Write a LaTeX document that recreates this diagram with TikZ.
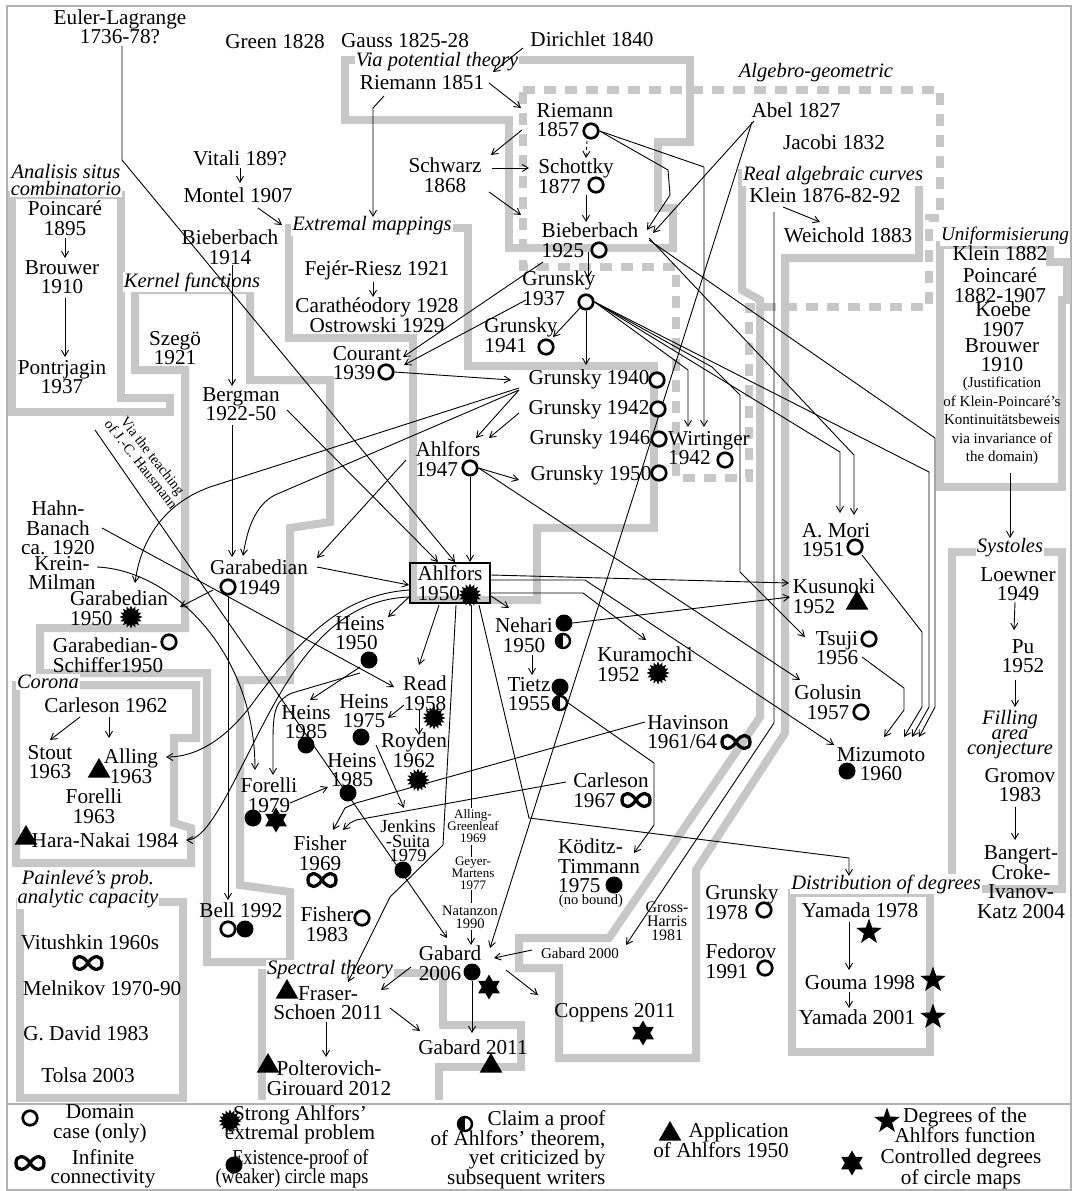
\documentclass[tikz,border=0pt]{standalone}
\usepackage{fontspec}
\setmainfont{Liberation Serif}
\newfontfamily\condfont[FakeStretch=0.86]{Liberation Serif}
\usetikzlibrary{arrows.meta,shapes.geometric,calc}
\pgfdeclarelayer{bg}\pgfdeclarelayer{edges}
\pgfsetlayers{bg,edges,main}
\tikzset{
 tx/.style={font=\fontsize{21.2}{19.5}\selectfont, inner sep=1pt, align=center},
 txl/.style={tx, align=left},
 lab/.style={font=\fontsize{20.5}{17}\selectfont\itshape, fill=white, inner sep=1pt, align=center},
 sm/.style={font=\fontsize{13}{12}\selectfont, inner sep=1pt, align=center},
 region/.style={draw=black!22, line width=8pt, line join=miter},
 dregion/.style={region, dash pattern=on 12pt off 9pt},
 arr/.style={draw, line width=0.9pt, -{Straight Barb[length=6pt,width=7pt]}},
 ln/.style={draw, line width=0.9pt},
 mkring/.style={circle, draw, fill=white, line width=2.7pt, minimum size=14.5pt, inner sep=0pt},
 mkdot/.style={circle, fill=black, minimum size=17pt, inner sep=0pt},
 mksun/.style={star, star points=16, star point ratio=1.45, fill=black, minimum size=23pt, inner sep=0pt},
 mkhalf/.style={circle, draw, fill=white, line width=2.4pt, minimum size=14pt, inner sep=0pt,
   path picture={\fill[black] (path picture bounding box.south west) rectangle (path picture bounding box.north);}},
 mktri/.style={regular polygon, regular polygon sides=3, fill=black, minimum size=26pt, inner sep=0pt},
 mkstar/.style={star, star points=5, star point ratio=2.5, fill=black, minimum size=27pt, inner sep=0pt},
 mkhex/.style={star, star points=6, star point ratio=1.73, fill=black, minimum size=25pt, inner sep=0pt},
 inf/.pic={\draw[line width=3.3pt] (0,0) .. controls (5,8.5) and (14,8.5) .. (14,0) .. controls (14,-8.5) and (5,-8.5) .. (0,0) .. controls (-5,8.5) and (-14,8.5) .. (-14,0) .. controls (-14,-8.5) and (-5,-8.5) .. (0,0) -- cycle;}
}
\begin{document}
\begin{tikzpicture}[x=1pt,y=-1pt]
\useasboundingbox (0,0) rectangle (1072,1191);
\begin{pgfonlayer}{bg}
\fill[white] (0,0) rectangle (1072,1191);
\draw[black!30, line width=1.5pt] (7,6) rectangle (1071,1190);
\draw[black!30, line width=1.5pt] (7,1104) -- (1071,1104);
% regions
\draw[region] (12,195) -- (121,195) -- (121,398) -- (170,398) -- (170,412) -- (12,412) -- cycle;
\draw[region] (135,290) -- (250,290) -- (250,380) -- (330,380) -- (330,522) -- (290,528) -- (290,680) -- (240,680) -- (240,885) -- (290,892) -- (290,962) -- (207,962) -- (207,673) -- (40,673) -- (40,628) -- (185,628) -- (185,370) -- (135,370) -- cycle;
\draw[region] (16,685) -- (196,685) -- (196,738) -- (174,738) -- (174,823) -- (191,828) -- (191,863) -- (16,863) -- cycle;
\draw[region] (20,902) -- (183,902) -- (183,1098) -- (20,1098) -- cycle;
\draw[region] (262,1100) -- (262,973) -- (443,973) -- (443,1025) -- (521,1025) -- (521,1067) -- (439,1067) -- (439,1100);
\draw[region] (289,228) -- (468,228) -- (468,366) -- (654,366) -- (654,528) -- (537,528) -- (537,600) -- (413,600) -- (413,338) -- (289,338) -- cycle;
\draw[region] (345,60) -- (690,60) -- (690,142) -- (658,142) -- (658,208) -- (673,208) -- (673,248) -- (509,248) -- (509,120) -- (345,120) -- cycle;
\draw[dregion] (523,90) -- (940,90) -- (940,218) -- (929,218) -- (929,307) -- (749,307) -- (749,478) -- (676,478) -- (676,267) -- (523,267) -- cycle;
\draw[region] (742,173) -- (919,173) -- (919,258) -- (785,258) -- (785,733) -- (696,870) -- (696,1058) -- (559,1058) -- (559,968) -- (519,968) -- (519,938) -- (609,938) -- (760,717) -- (760,300) -- (742,290) -- cycle;
\draw[region] (940,245) -- (1050,245) -- (1050,262) -- (1067,262) -- (1067,300) -- (1062,300) -- (1062,487) -- (940,487) -- cycle;
\draw[region] (952,552) -- (1062,552) -- (1062,889) -- (952,889) -- cycle;
\draw[region] (792,893) -- (930,893) -- (930,1052) -- (792,1052) -- cycle;
% region labels
\node[lab] (lpot) at (437,62) {Via potential theory};
\node[lab] (lalg) at (816,73) {Algebro-geometric};
\node[lab] (lreal) at (833,176) {Real algebraic curves};
\node[lab] (lanal) at (66,180) {Analisis situs\\combinatorio};
\node[lab] (lext) at (372,226) {Extremal mappings};
\node[lab] (lker) at (192,282) {Kernel functions};
\node[lab, font=\fontsize{19.2}{17}\selectfont\itshape] (luni) at (1005,236) {Uniformisierung};
\node[lab] (lsys) at (1010,548) {Systoles};
\node[lab] (lcor) at (48,682) {Corona};
\node[lab] (lpain) at (88,889) {Painlevé's prob.\\analytic capacity};
\node[lab] (lspec) at (330,970) {Spectral theory};
\node[lab] (ldist) at (886,884) {Distribution of degrees};
\end{pgfonlayer}

% text nodes
\node[tx] (eul) at (120,27) {Euler-Lagrange\\1736-78?};
\node[tx] (green) at (275,42) {Green 1828};
\node[tx] (gauss) at (405,41) {Gauss 1825-28};
\node[tx] (diri) at (592,39) {Dirichlet 1840};
\node[tx] (rie51) at (422,83) {Riemann 1851};
\node[txl] (rie57) at (575,120) {Riemann\\1857};
\node[tx] (abel) at (796,110) {Abel 1827};
\node[tx] (jacobi) at (834,142) {Jacobi 1832};
\node[tx] (schwarz) at (445,175) {Schwarz\\1868};
\node[txl] (schottky) at (576,176) {Schottky\\1877};
\node[tx] (klein) at (825,195) {Klein 1876-82-92};
\node[tx] (weich) at (848,235) {Weichold 1883};
\node[tx] (vitali) at (240,158) {Vitali 189?};
\node[tx] (montel) at (238,195) {Montel 1907};
\node[tx] (poinc) at (65,218) {Poincaré\\1895};
\node[tx] (brouw) at (62,277) {Brouwer\\1910};
\node[tx] (pontr) at (62,377) {Pontrjagin\\1937};
\node[tx] (bieb14) at (230,247) {Bieberbach\\1914};
\node[txl] (bieb25) at (590,240) {Bieberbach\\1925};
\node[tx] (klein82) at (1000,253) {Klein 1882};
\node[tx] (poinc82) at (1000,285) {Poincaré\\1882-1907};
\node[tx] (koebe) at (1003,319) {Koebe\\1907};
\node[tx] (brouw10) at (1002,355) {Brouwer\\1910};
\node[tx, font=\fontsize{15}{18.5}\selectfont] (justif) at (1002,421) {(Justification\\of Klein-Poincaré's\\Kontinuitätsbeweis\\via invariance of\\the domain)};
\node[tx] (fejer) at (377,270) {Fejér-Riesz 1921};
\node[tx] (carath) at (377,315) {Carathéodory 1928\\Ostrowski 1929};
\node[txl] (gr37) at (559,288) {Grunsky\\1937};
\node[txl] (gr41) at (521,335) {Grunsky\\1941};
\node[tx] (szego) at (175,348) {Szegö\\1921};
\node[txl] (courant) at (367,363) {Courant\\1939};
\node[tx] (gr40) at (589,379) {Grunsky 1940};
\node[tx] (gr42) at (589,409) {Grunsky 1942};
\node[tx] (gr46) at (590,439) {Grunsky 1946};
\node[txl] (wirt) at (709,448) {Wirtinger\\1942};
\node[tx] (gr50) at (591,475) {Grunsky 1950};
\node[txl] (ahl47) at (448,459) {Ahlfors\\1947};
\node[tx] (bergman) at (241,404) {Bergman\\1922-50};
\node[tx, font=\fontsize{14.5}{13}\selectfont, rotate=-52] (via) at (147,460) {Via the teaching\\of J.-C. Hausmann};
\node[tx] (hahn) at (58,528) {Hahn-\\Banach\\ca. 1920};
\node[tx] (krein) at (62,573) {Krein-\\Milman};
\node[tx] (gar49) at (259,577) {Garabedian\\1949};
\node[txl] (amori) at (836,540) {A. Mori\\1951};
\node[tx] (loewner) at (1018,584) {Loewner\\1949};
\node[txl, draw, line width=2.8pt, minimum width=80pt, minimum height=40pt, inner xsep=3pt] (ahl50) at (450,583) {Ahlfors\\1950};
\node[txl] (kusu) at (834,596) {Kusunoki\\1952};
\node[txl] (gar50) at (119,608) {Garabedian\\1950};
\node[txl] (garsch) at (108,655) {Garabedian-\\Schiffer1950};
\node[txl] (heins50) at (360,633) {Heins\\1950};
\node[tx] (nehari) at (524,635) {Nehari\\1950};
\node[txl] (kura) at (645,664) {Kuramochi\\1952};
\node[tx] (tsuji) at (837,648) {Tsuji\\1956};
\node[tx] (pu) at (1023,656) {Pu\\1952};
\node[tx] (tietz) at (529,694) {Tietz\\1955};
\node[tx] (read) at (425,693) {Read\\1958};
\node[tx] (heins75) at (364,711) {Heins\\1975};
\node[tx] (heins85a) at (306,722) {Heins\\1985};
\node[tx] (heins85b) at (352,770) {Heins\\1985};
\node[tx] (royden) at (414,750) {Royden\\1962};
\node[txl] (havin) at (688,732) {Havinson\\1961/64};
\node[tx] (mizu) at (881,764) {Mizumoto\\1960};
\node[tx] (golusin) at (828,702) {Golusin\\1957};
\node[tx] (forelli79) at (269,795) {Forelli\\1979};
\node[txl] (carl67) at (611,790) {Carleson\\1967};
\node[tx, font=\fontsize{20.5}{15}\selectfont\itshape] (filling) at (1010,735) {Filling\\area\\conjecture};
\node[tx] (gromov) at (1020,785) {Gromov\\1983};
\node[tx] (carl62) at (106,705) {Carleson 1962};
\node[tx] (stout) at (50,762) {Stout\\1963};
\node[tx] (alling) at (131,766) {Alling\\1963};
\node[tx] (forelli63) at (94,806) {Forelli\\1963};
\node[tx] (hara) at (105,840) {Hara-Nakai 1984};
\node[tx] (fisher69) at (320,853) {Fisher\\1969};
\node[tx, font=\fontsize{18.5}{14.5}\selectfont] (jenkins) at (408,841) {Jenkins\\-Suita\\1979};
\node[sm] (allgreen) at (473,826) {Alling-\\Greenleaf\\1969};
\node[sm] (geyer) at (473,873) {Geyer-\\Martens\\1977};
\node[tx, font=\fontsize{14.5}{13}\selectfont] (natan) at (470,917) {Natanzon\\1990};
\node[txl] (koditz) at (599,866) {Köditz-\\Timmann\\1975};
\node[tx, font=\fontsize{14.5}{14}\selectfont] (nobound) at (591,901) {(no bound)};
\node[tx, font=\fontsize{16}{14}\selectfont] (gross) at (667,921) {Gross-\\Harris\\1981};
\node[txl] (gr78) at (742,902) {Grunsky\\1978};
\node[tx] (bangert) at (1021,882) {Bangert-\\Croke-\\Ivanov-\\Katz 2004};
\node[tx] (yam78) at (860,910) {Yamada 1978};
\node[tx] (fisher83) at (327,924) {Fisher\\1983};
\node[tx] (bell) at (241,910) {Bell 1992};
\node[txl] (fedorov) at (741,961) {Fedorov\\1991};
\node[tx] (vitu) at (90,942) {Vitushkin 1960s};
\node[tx] (meln) at (102,988) {Melnikov 1970-90};
\node[tx] (david) at (86,1033) {G. David 1983};
\node[tx] (tolsa) at (88,1075) {Tolsa 2003};
\node[txl] (gab06) at (450,963) {Gabard\\2006};
\node[tx, font=\fontsize{15}{15}\selectfont] (gab00) at (580,953) {Gabard 2000};
\node[tx] (gouma) at (860,983) {Gouma 1998};
\node[tx] (yam01) at (857,1017) {Yamada 2001};
\node[tx] (fraser) at (328,1003) {Fraser-\\Schoen 2011};
\node[tx] (polter) at (329,1078) {Polterovich-\\Girouard 2012};
\node[tx] (coppens) at (615,1013) {Coppens 2011};
\node[tx] (gab11) at (473,1047) {Gabard 2011};

% markers
\node[mkring] (r57) at (591,131) {};
\node[mkring] (r77) at (596,185) {};
\node[mkring] (r25) at (599,250) {};
\node[mkring] (r37) at (586,302) {};
\node[mkring] (r41) at (546,347) {};
\node[mkring] (r39) at (386,372) {};
\node[mkring] (r40) at (657,380) {};
\node[mkring] (r42) at (658,409) {};
\node[mkring] (r46) at (659,439) {};
\node[mkring] (rw) at (725,460) {};
\node[mkring] (r50) at (659,473) {};
\node[mkring] (r47) at (470,468) {};
\node[mkring] (r49) at (228,587) {};
\node[mkring] (rmori) at (855,547) {};
\node[mksun] (s50a) at (470,595) {};
\node[mktri] (tkusu) at (857,603) {};
\node[mksun] (sgar) at (131,617) {};
\node[mkring] (rgs) at (169,642) {};
\node[mkdot] (dh50) at (369,660) {};
\node[mkdot] (dneh) at (564,623) {};
\node[mkhalf] (hneh) at (563,641) {};
\node[mksun] (skura) at (658,673) {};
\node[mkring] (rtsuji) at (869,639) {};
\node[mkdot] (dtietz) at (560,687) {};
\node[mkhalf] (htietz) at (560,703) {};
\node[mksun] (sread) at (434,718) {};
\node[mkdot] (dh75) at (361,737) {};
\node[mkdot] (dh85a) at (306,745) {};
\node[mkdot] (dh85b) at (348,793) {};
\node[mksun] (sroy) at (418,780) {};
\pic at (736,742) {inf};
\node[mkdot] (dmizu) at (847,771) {};
\node[mkring] (rgol) at (861,712) {};
\node[mkdot] (dfor) at (253,818) {};
\node[mkhex] (hfor) at (276,820) {};
\pic at (636,800) {inf};
\node[mktri] (talling) at (99,771) {};
\node[mktri] (thara) at (26,838) {};
\pic at (322,880) {inf};
\node[mkdot] (djenk) at (403,870) {};
\node[mkdot] (dkod) at (614,885) {};
\node[mkring] (r78) at (764,910) {};
\node[mkstar] (syam78) at (869,932) {};
\node[mkring] (rfish) at (362,918) {};
\node[mkring] (rbell) at (228,929) {};
\node[mkdot] (dbell) at (245,929) {};
\node[mkring] (rfed) at (765,968) {};
\pic at (88,963) {inf};
\node[mkdot] (dgab06) at (472,972) {};
\node[mkhex] (hgab06) at (489,987) {};
\node[mkstar] (sgouma) at (933,980) {};
\node[mkstar] (syam01) at (933,1017) {};
\node[mktri] (tfraser) at (287,992) {};
\node[mktri] (tpolter) at (268,1066) {};
\node[mkhex] (hcop) at (643,1033) {};
\node[mktri] (tgab11) at (491,1066) {};

% legend
\node[mkring] (lg1) at (30,1118) {};
\node[tx] (lgt1) at (100,1124) {Domain\\case (only)};
\pic at (30,1163) {inf};
\node[tx] (lgt2) at (103,1169) {Infinite\\connectivity};
\node[mksun] (lg3) at (230,1121) {};
\node[tx] (lgt3) at (300,1125) {Strong Ahlfors'\\extremal problem};
\node[mkdot] (lg4) at (234,1165) {};
\node[tx, align=right, font=\condfont\fontsize{21.2}{19.5}\selectfont] (lgt4) at (292,1169) {Existence-proof of\\(weaker) circle maps};
\node[mkhalf] (lg5) at (465,1124) {};
\node[tx, align=right] (lgt5) at (518,1150) {Claim a proof\\of Ahlfors' theorem,\\yet criticized by\\subsequent writers};
\node[mktri] (lg6) at (670,1134) {};
\node[tx, align=right] (lgt6) at (721,1140) {Application\\of Ahlfors 1950};
\node[mkstar] (lg7) at (887,1121) {};
\node[tx] (lgt7) at (965,1125) {Degrees of the\\Ahlfors function};
\node[mkhex] (lg8) at (852,1163) {};
\node[tx] (lgt8) at (961,1169) {Controlled degrees\\of circle maps};

\begin{pgfonlayer}{edges}
\draw[arr] ($(eul)+(2,19)$) -- (122,160) -- ($(ahl50)+(5,-21)$);
\draw[arr] ($(bergman)+(46,6)$) -- ($(ahl50)+(-12,-21)$);
\draw[arr] ($(rie51)+(-38,13)$) -- (373,108) -- ($(lext)+(1,-9)$);
\draw[arr] ($(diri)+(-69,9)$) -- ($(rie51)+(71,-11)$);
\draw[arr] ($(rie51)+(67,0)$) -- ($(rie57)+(-54,-12)$);
\draw[arr] ($(rie57)+(-53,10)$) -- ($(schwarz)+(46,-20)$);
\draw[arr] ($(schwarz)+(47,-7)$) -- ($(schottky)+(-47,-8)$);
\draw[arr] ($(schwarz)+(44,17)$) -- ($(bieb25)+(-69,-25)$);
\draw[arr, dashed] ($(r57)+(-4,10)$) -- ($(schottky)+(10,-18)$);
\draw[arr] ($(schottky)+(10,19)$) -- ($(bieb25)+(-4,-18)$);
\draw[arr] (r57.east) -- (668,170) -- (670,195) -- ($(bieb25)+(57,-10)$);
\draw[arr] (r57.east) -- (704,167) -- ($(wirt)+(-5,-21)$);
\draw[arr] ($(abel)+(-42,11)$) -- ($(bieb25)+(63,-7)$);
\draw[arr] ($(abel)+(-44,12)$) -- ($(gab06)+(40,-15)$);
\draw[arr] ($(klein)+(-42,12)$) -- ($(weich)+(-28,-13)$);
\draw[arr] ($(klein)+(-51,17)$) -- (774,723) -- ($(gab00)+(46,-8)$);
\draw[arr] ($(vitali)+(0,10)$) -- ($(montel)+(2,-12)$);
\draw[arr] ($(montel)+(20,13)$) -- ($(lext)+(-90,-1)$);
\draw[arr] ($(bieb14)+(2,18)$) -- ($(bergman)+(-9,-18)$);
\draw[arr] ($(poinc)+(0,20)$) -- ($(brouw)+(3,-19)$);
\draw[arr] ($(brouw)+(3,21)$) -- ($(pontr)+(3,-20)$);
\draw[arr] ($(fejer)+(-4,12)$) -- ($(carath)+(-4,-18)$);
\draw[arr] ($(bergman)+(-9,21)$) -- ($(gar49)+(-27,-20)$);
\draw[arr] (r49.south) -- ($(bell)+(-13,-10)$);
\draw[arr] ($(pontr)+(33,53)$) -- ($(gab06)+(-3,-25)$);
\draw[arr] ($(hahn)+(44,0)$) -- ($(read)+(-31,-6)$);
\draw[arr] ($(krein)+(35,-6)$) .. controls (170,570) and (255,650) .. ($(forelli79)+(-14,-25)$);
\draw[arr] ($(gr40)+(-70,9)$) -- (210,487) .. controls (160,505) and (140,545) .. ($(gar50)+(16,-25)$);
\draw[arr] ($(gr40)+(-70,11)$) -- (275,495) .. controls (255,505) and (247,530) .. ($(gar49)+(-16,-21)$);
\draw[arr] ($(ahl47)+(-42,1)$) -- ($(gar49)+(58,-19)$);
\draw[arr] ($(r49)+(-15,3)$) -- ($(gar50)+(61,-1)$);
\draw[arr] ($(gar49)+(58,-10)$) -- ($(ahl50)+(-41,2)$);
\draw[arr] ($(gr40)+(-70,11)$) -- ($(ahl47)+(28,-21)$);
\draw[arr] ($(gr42)+(-70,4)$) -- ($(ahl47)+(41,-21)$);
\draw[arr] (r47.east) -- ($(gr50)+(-72,5)$);
\draw[arr] (r47.south) -- ($(ahl50)+(20,-21)$);
\draw[arr] (r47.east) -- ($(golusin)+(-28,-22)$);
\draw[arr] (r39.east) -- ($(gr40)+(-78,1)$);
\draw[arr] ($(bieb25)+(-47,22)$) -- ($(courant)+(36,-6)$);
\draw[arr] ($(gr37)+(-33,12)$) -- ($(courant)+(37,2)$);
\draw[arr] ($(bieb25)+(-2,12)$) -- ($(gr37)+(29,-10)$);
\draw[arr] (r37.south west) -- ($(gr41)+(32,2)$);
\draw[arr] (r37.south) -- ($(gr40)+(-3,-14)$);
\draw[arr] (r37.east) -- (688,370) -- ($(wirt)+(-21,-21)$);
\draw[arr] (r37.east) -- (840,452) -- ($(amori)+(4,-27)$);
\draw[arr] (r37.east) -- (929,472) -- (929,707) -- ($(mizu)+(31,-27)$);
\draw[arr] (r37.east) -- (712,367) -- (740,395) -- (740,572) -- ($(tsuji)+(-32,-11)$);
\draw[arr] ($(bieb25)+(59,-2)$) -- (854,455) -- ($(amori)+(18,-25)$);
\draw[arr] ($(bieb25)+(59,0)$) -- (935,438) -- (935,707) -- ($(mizu)+(38,-27)$);
\draw[arr] ($(tsuji)+(25,9)$) -- (904,688) -- (904,710) -- ($(mizu)+(3,-27)$);
\draw[arr] ($(rmori)+(7,8)$) -- (922,632) -- (922,707) -- ($(mizu)+(23,-27)$);
\draw[arr] ($(ahl50)+(41,-3)$) -- (585,580) -- ($(mizu)+(-47,-19)$);
\draw[arr] ($(ahl50)+(41,-8)$) -- ($(kusu)+(-45,-13)$);
\draw[arr] ($(ahl50)+(41,10)$) -- (583,593) -- ($(kura)+(1,-24)$);
\draw[arr] ($(ahl50)+(-41,14)$) -- ($(heins50)+(28,-16)$);
\draw[arr] ($(ahl50)+(-11,22)$) -- ($(read)+(-6,-28)$);
\draw[arr] ($(ahl50)+(41,13)$) -- ($(nehari)+(-15,-27)$);
\draw[arr] (dneh.east) -- ($(kusu)+(-44,1)$);
\draw[arr] ($(nehari)+(8,20)$) -- ($(tietz)+(3,-19)$);
\draw[arr] (htietz.east) -- (654,763) -- (654,825) -- ($(koditz)+(35,-13)$);
\draw[arr] ($(havin)+(-43,-10)$) -- (356,803) -- (345,808) -- ($(fisher69)+(13,-23)$);
\draw[arr] ($(carl67)+(-45,-8)$) -- (356,820) -- (350,823) -- ($(fisher69)+(23,-23)$);
\draw[arr] ($(forelli79)+(21,8)$) -- ($(heins85b)+(-24,17)$);
\draw[arr] ($(dh50)+(-9,7)$) -- ($(heins85a)+(4,-22)$);
\draw[arr] ($(read)+(-21,12)$) -- ($(heins75)+(24,7)$);
\draw[arr] ($(read)+(-6,17)$) -- ($(royden)+(5,-15)$);
\draw[arr] ($(dh75)+(15,8)$) -- ($(jenkins)+(-4,-33)$);
\draw[arr] ($(ahl50)+(6,22)$) -- (443,845) -- (390,897) -- ($(fraser)+(20,-21)$);
\draw[ln] ($(ahl50)+(21,22)$) -- ($(allgreen)+(-2,-18)$);
\draw[ln] ($(allgreen)+(-2,19)$) -- ($(geyer)+(-2,-16)$);
\draw[ln] ($(geyer)+(-2,17)$) -- ($(natan)+(1,-14)$);
\draw[arr] ($(natan)+(1,13)$) -- ($(gab06)+(21,-18)$);
\draw[arr] ($(ahl50)+(29,22)$) -- (529,818) -- (849,858) -- ($(ldist)+(-37,-8)$);
\draw[arr] ($(ahl50)+(-41,7)$) .. controls (340,595) and (300,640) .. (255,700) .. controls (230,735) and (200,757) .. ($(alling)+(35,-9)$);
\draw[arr] ($(ahl50)+(-41,14)$) .. controls (330,600) and (290,670) .. (250,750) .. controls (225,800) and (205,840) .. ($(hara)+(81,0)$);
\draw[arr] ($(dh50)+(-9,13)$) -- (292,693) .. controls (276,700) and (273,710) .. (273,740) -- ($(forelli79)+(4,-20)$);
\draw[arr] ($(justif)+(8,52)$) -- ($(lsys)+(0,-10)$);
\draw[arr] ($(loewner)+(-3,18)$) -- ($(pu)+(-9,-26)$);
\draw[arr] ($(pu)+(-8,24)$) -- ($(filling)+(5,-28)$);
\draw[arr] ($(gromov)+(-5,22)$) -- ($(bangert)+(-6,-42)$);
\draw[arr] ($(carl62)+(-26,12)$) -- ($(stout)+(0,-22)$);
\draw[arr] ($(carl62)+(3,12)$) -- ($(alling)+(-22,-28)$);
\draw[arr] ($(yam78)+(-11,12)$) -- ($(gouma)+(-11,-13)$);
\draw[arr] ($(gouma)+(-11,9)$) -- ($(yam01)+(-8,-9)$);
\draw[arr] ($(fraser)+(-2,19)$) -- ($(polter)+(-3,-21)$);
\draw[arr] ($(fraser)+(62,5)$) -- ($(gab11)+(-53,-16)$);
\draw[arr] ($(gab06)+(-39,4)$) -- ($(fraser)+(53,-13)$);
\draw[arr] (dgab06.south) -- ($(gab11)+(-1,-14)$);
\draw[arr] ($(gab06)+(56,7)$) -- ($(coppens)+(-77,-18)$);
\draw[arr] ($(gab00)+(-48,-3)$) -- ($(gab06)+(44,-5)$);
\end{pgfonlayer}
\end{tikzpicture}
\end{document}
